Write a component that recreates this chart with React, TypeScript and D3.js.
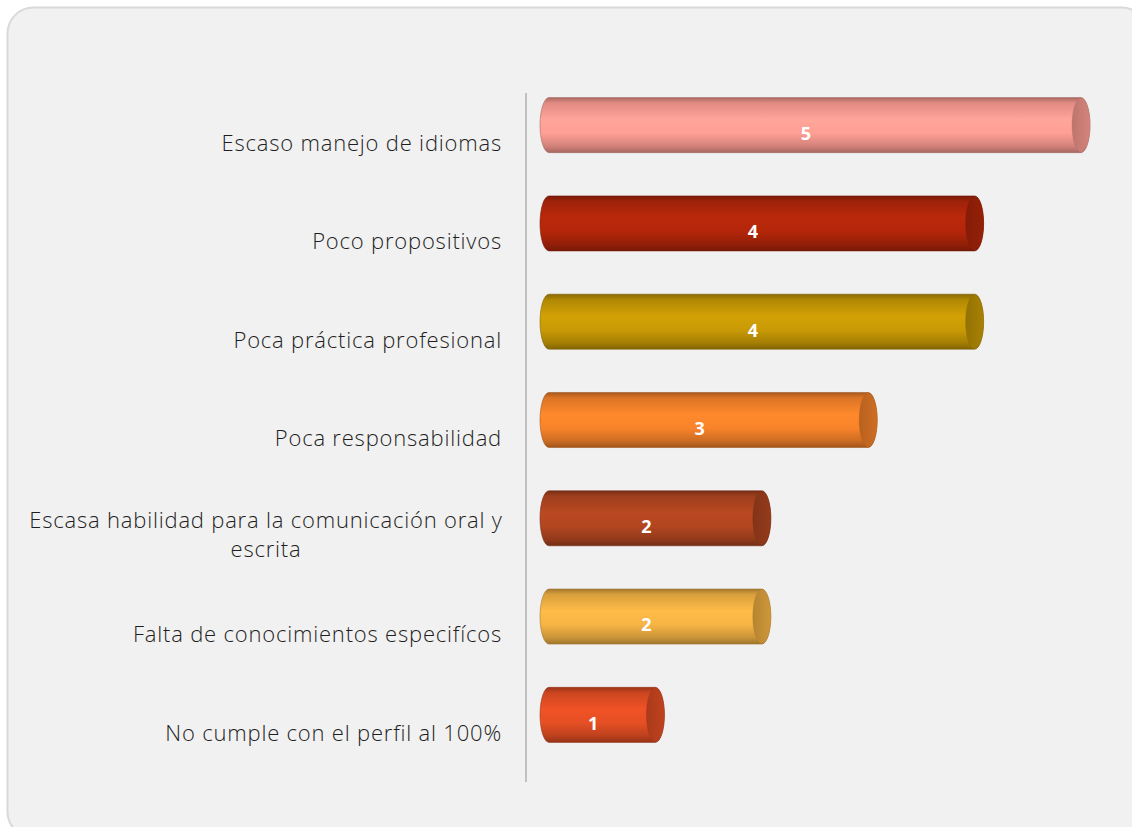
import React from "react";
import * as d3 from "d3";

const categories: string[][] = [
  ["Escaso manejo de idiomas"],
  ["Poco propositivos"],
  ["Poca práctica profesional"],
  ["Poca responsabilidad"],
  ["Escasa habilidad para la comunicación oral y", "escrita"],
  ["Falta de conocimientos especifícos"],
  ["No cumple con el perfil al 100%"],
];
const values: number[] = [5, 4, 4, 3, 2, 2, 1];
const colors: string[] = ["#FF9E94", "#B3260A", "#C99A05", "#F8832A", "#B24620", "#F6B444", "#E64F24"];

const W = 1132;
const H = 827;

export default function App() {
  const x = d3.scaleLinear().domain([0, 5]).range([549, 1081]);
  const y = d3
    .scaleBand<number>()
    .domain(d3.range(values.length))
    .range([76, 764])
    .paddingInner(0.44)
    .paddingOuter(0.22);
  const bw = y.bandwidth();
  const rx = 9;

  return (
    <svg
      width={W}
      height={H}
      style={{ position: "absolute", left: 0, top: 0, display: "block" }}
      fontFamily="'Open Sans', 'Noto Sans', sans-serif"
    >
      <defs>
        {colors.map((c, i) => (
          <linearGradient key={i} id={`g${i}`} x1="0" y1="0" x2="0" y2="1">
            <stop offset="0" stopColor={d3.rgb(c).darker(1.1).toString()} />
            <stop offset="0.1" stopColor={d3.rgb(c).darker(0.35).toString()} />
            <stop offset="0.4" stopColor={d3.rgb(c).brighter(0.12).toString()} />
            <stop offset="0.65" stopColor={c} />
            <stop offset="0.88" stopColor={d3.rgb(c).darker(0.55).toString()} />
            <stop offset="1" stopColor={d3.rgb(c).darker(1.2).toString()} />
          </linearGradient>
        ))}
        {colors.map((c, i) => (
          <linearGradient key={"e" + i} id={`e${i}`} x1="0" y1="0" x2="1" y2="0">
            <stop offset="0" stopColor={d3.rgb(c).darker(0.85).toString()} />
            <stop offset="1" stopColor={d3.rgb(c).darker(0.5).toString()} />
          </linearGradient>
        ))}
      </defs>
      <rect x={0} y={0} width={W} height={H} fill="#ffffff" />
      <rect x={7.5} y={7.5} width={1140} height={830} rx={26} fill="#f1f1f1" stroke="#d9d9d9" strokeWidth={2} />
      <line x1={526} x2={526} y1={93} y2={782} stroke="#c0c0c0" strokeWidth={2} />
      {values.map((v, i) => {
        const top = y(i)!;
        const bot = top + bw;
        const ry = bw / 2;
        const x0 = x(0);
        const x1 = x(v);
        const cy = top + ry;
        const body = `M${x0},${top} L${x1},${top} A${rx},${ry} 0 0 1 ${x1},${bot} L${x0},${bot} A${rx},${ry} 0 0 1 ${x0},${top} Z`;
        return (
          <g key={i}>
            <path d={body} fill={`url(#g${i})`} stroke={d3.rgb(colors[i]).darker(1.3).toString()} strokeWidth={0.8} strokeOpacity={0.7} />
            <ellipse cx={x1} cy={cy} rx={rx} ry={ry - 0.5} fill={`url(#e${i})`} stroke={d3.rgb(colors[i]).darker(1).toString()} strokeWidth={0.6} strokeOpacity={0.6} />
            <text
              x={(x0 + x1) / 2 - 9}
              y={cy + 10}
              textAnchor="middle"
              dominantBaseline="middle"
              fill="#ffffff"
              fontWeight="bold"
              fontSize={18}
            >
              {v}
            </text>
          </g>
        );
      })}
      {categories.map((lines, i) => {
        const cy = y(i)! + bw / 2 + 20 - (lines.length - 1) * 1.5;
        const lh = 29;
        const startY = cy - ((lines.length - 1) * lh) / 2;
        if (lines.length === 1) {
          return (
            <text key={i} x={502} y={startY} textAnchor="end" dominantBaseline="middle" fontSize={22} letterSpacing={0.8} fill="#1e1e1e" fontWeight={300}>
              {lines[0]}
            </text>
          );
        }
        return (
          <text key={i} textAnchor="middle" dominantBaseline="middle" fontSize={22} letterSpacing={0.8} fill="#1e1e1e" fontWeight={300}>
            {lines.map((l, j) => (
              <tspan key={j} x={266} y={startY + j * lh}>
                {l}
              </tspan>
            ))}
          </text>
        );
      })}
    </svg>
  );
}
